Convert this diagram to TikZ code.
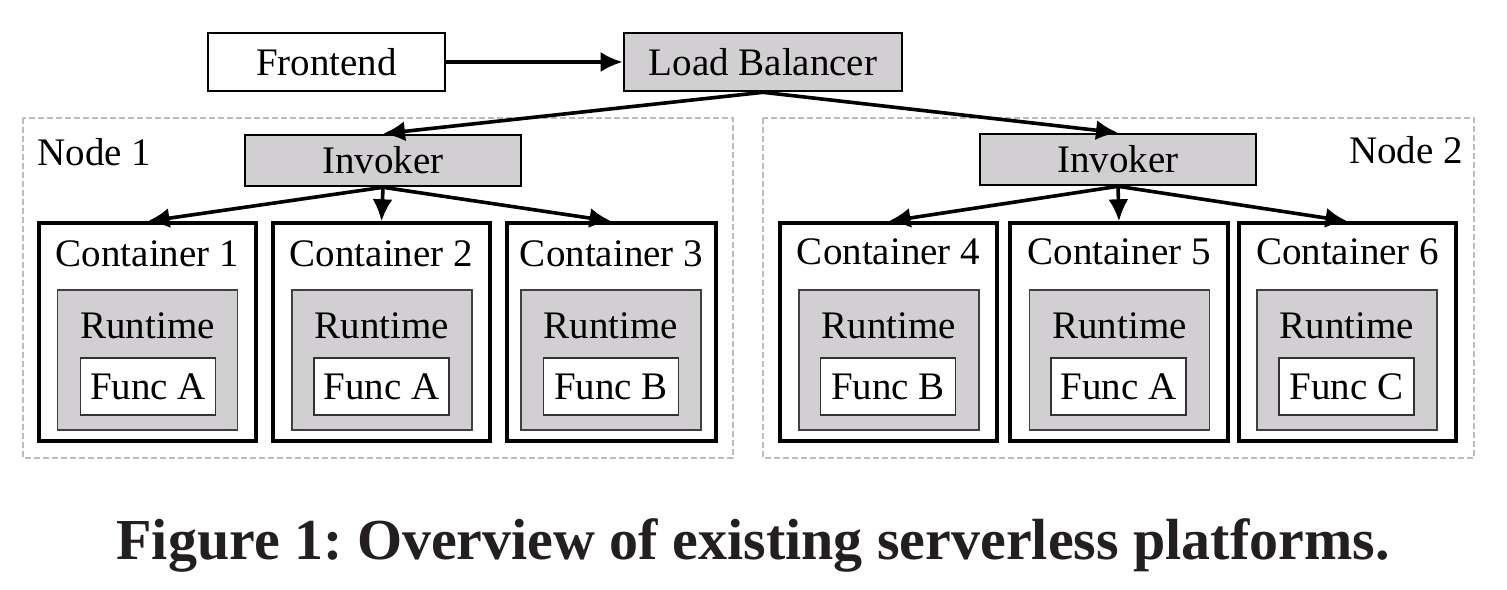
\documentclass[tikz,border=0pt]{standalone}
\usepackage{fontspec}
\setmainfont{Liberation Serif}
\usetikzlibrary{arrows.meta}
\definecolor{boxgray}{HTML}{D1CFD1}
\definecolor{dashgray}{HTML}{BBBBBB}
\definecolor{captext}{HTML}{231F20}
\tikzset{
  plainbox/.style={draw=black, line width=1.3pt, fill=white, inner sep=0pt},
  graybox/.style={draw=black, line width=1.3pt, fill=boxgray, inner sep=0pt},
  contbox/.style={draw=black, line width=1.7pt, fill=white, inner sep=0pt, minimum height=109pt},
  rtbox/.style={draw=black!75, line width=0.6pt, fill=boxgray, inner sep=0pt, minimum height=70pt, minimum width=90pt},
  funcbox/.style={draw=black!80, line width=0.6pt, fill=white, inner sep=0pt, minimum height=28.5pt, minimum width=67.5pt},
  nodearea/.style={draw=dashgray, line width=1.2pt, dash pattern=on 3pt off 1.5pt},
  lbl/.style={inner sep=0pt, font=\fontsize{19.5pt}{22pt}\selectfont},
  arr/.style={line width=1.8pt, -{Latex[length=11pt,width=10pt]}},
}
\begin{document}
\frenchspacing
\begin{tikzpicture}[x=0.5pt,y=-0.5pt]
\useasboundingbox[fill=white] (0,0) rectangle (1507,589);
% node areas
\draw[nodearea] (23,118) rectangle (733,458);
\draw[nodearea] (763,118) rectangle (1474,458);
\node[lbl] (n1) at (94.5,152) {Node 1};
\node[lbl] (n2) at (1406,150) {Node 2};
% top row
\node[plainbox, minimum width=118.5pt, minimum height=29pt] (fe) at (326.5,62) {};
\node[lbl] (fet) at (326.5,62) {Frontend};
\node[graybox, minimum width=139pt, minimum height=29pt] (lb) at (763,62) {};
\node[lbl] (lbt) at (763,62) {Load Balancer};
\node[graybox, minimum width=138pt, minimum height=25.5pt] (inv1) at (383,160.5) {};
\node[lbl] (inv1t) at (383,160.5) {Invoker};
\node[graybox, minimum width=138pt, minimum height=25.5pt] (inv2) at (1118,159.5) {};
\node[lbl] (inv2t) at (1118,159.5) {Invoker};
% containers
\node[contbox, minimum width=108.5pt] (c1) at (147.5,332) {};
\node[contbox, minimum width=108.5pt] (c2) at (381.5,332) {};
\node[contbox, minimum width=104.5pt] (c3) at (611.5,332) {};
\node[contbox, minimum width=108.5pt] (c4) at (888.5,332) {};
\node[contbox, minimum width=109pt] (c5) at (1119,332) {};
\node[contbox, minimum width=108.5pt] (c6) at (1347.5,332) {};
\node[lbl] (c1t) at (147.5,254) {Container 1};
\node[lbl] (c2t) at (381.5,254) {Container 2};
\node[lbl] (c3t) at (611.5,254) {Container 3};
\node[lbl] (c4t) at (888.5,252) {Container 4};
\node[lbl] (c5t) at (1119,252) {Container 5};
\node[lbl] (c6t) at (1347.5,252) {Container 6};
% runtimes
\node[rtbox] (r1) at (147.5,360) {};
\node[rtbox] (r2) at (382,360) {};
\node[rtbox] (r3) at (611,360) {};
\node[rtbox] (r4) at (889,360) {};
\node[rtbox] (r5) at (1119.5,360) {};
\node[rtbox] (r6) at (1347,360) {};
\foreach \n/\x in {1/147.5,2/382,3/611,4/889,5/1119.5,6/1347}{
  \node[lbl] (r\n t) at (\x,326) {Runtime};
}
% functions
\node[funcbox] (f1) at (148,386.5) {};
\node[funcbox] (f2) at (381.5,386.5) {};
\node[funcbox] (f3) at (611,386.5) {};
\node[funcbox] (f4) at (888,386.5) {};
\node[funcbox] (f5) at (1118.5,386.5) {};
\node[funcbox] (f6) at (1346.5,386.5) {};
\node[lbl] (f1t) at (148,386.5) {Func A};
\node[lbl] (f2t) at (381.5,386.5) {Func A};
\node[lbl] (f3t) at (611,386.5) {Func B};
\node[lbl] (f4t) at (888,386.5) {Func B};
\node[lbl] (f5t) at (1118.5,386.5) {Func A};
\node[lbl] (f6t) at (1346.5,386.5) {Func C};
% connectors
\draw[arr] (fe.east) -- (lb.west);
\draw[arr] (lb.south) -- (inv1.north);
\draw[arr] (lb.south) -- (inv2.north);
\draw[arr] (inv1.south) -- (c1.north);
\draw[arr] (inv1.south) -- (c2.north);
\draw[arr] (inv1.south) -- (c3.north);
\draw[arr] (inv2.south) -- (c4.north);
\draw[arr] (inv2.south) -- (c5.north);
\draw[arr] (inv2.south) -- (c6.north);
% caption
\node[inner sep=0pt, text=captext, font=\fontsize{29pt}{34pt}\selectfont\bfseries] (cap) at (753,545) {Figure 1: Overview of existing serverless platforms.};
\end{tikzpicture}
\end{document}
